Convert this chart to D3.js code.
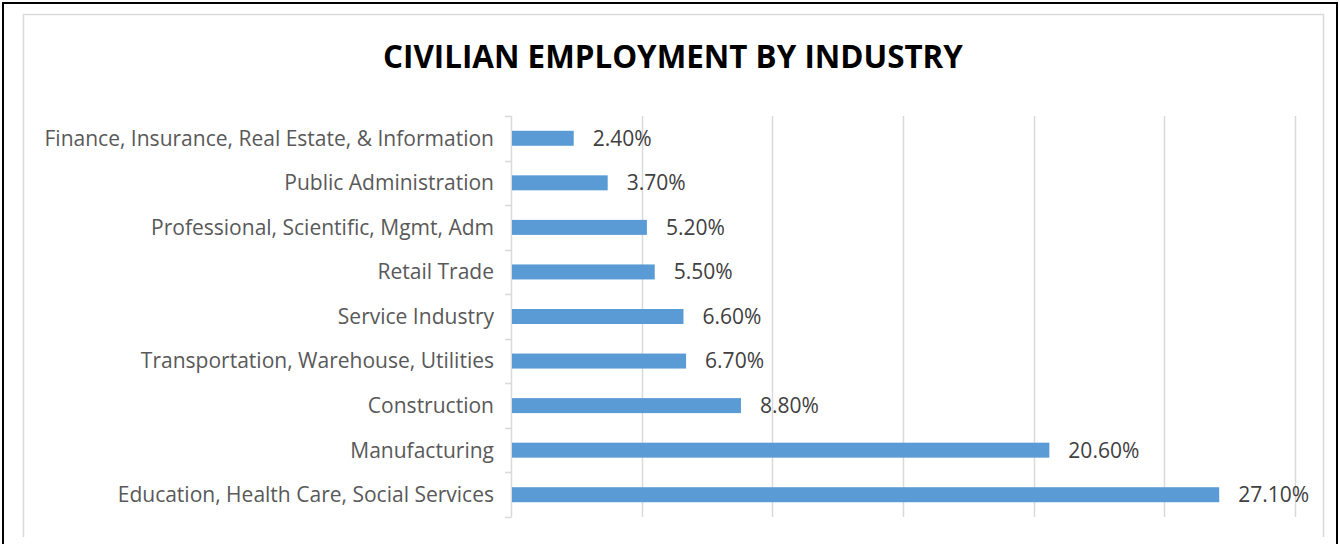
<!DOCTYPE html>
<html>
<head>
<meta charset="utf-8">
<script src="https://cdn.jsdelivr.net/npm/d3@7"></script>
<style>
  html, body { margin: 0; padding: 0; background: #fff; }
  svg { display: block; }
</style>
</head>
<body>
<svg id="chart" width="1340" height="544"></svg>
<script>
const title = "CIVILIAN EMPLOYMENT BY INDUSTRY";
const categories = [
  "Finance, Insurance, Real Estate, & Information",
  "Public Administration",
  "Professional, Scientific, Mgmt, Adm",
  "Retail Trade",
  "Service Industry",
  "Transportation, Warehouse, Utilities",
  "Construction",
  "Manufacturing",
  "Education, Health Care, Social Services"
];
const values = [2.4, 3.7, 5.2, 5.5, 6.6, 6.7, 8.8, 20.6, 27.1];
const xTicks = [0, 5, 10, 15, 20, 25, 30];

const svg = d3.select("#chart");
const FONT = "'Open Sans', 'Noto Sans', sans-serif";

// outer black frame
svg.append("path")
  .attr("d", "M3,546 V3 H1337 V546")
  .attr("fill", "none").attr("stroke", "#000").attr("stroke-width", 2);
// inner chart area frame
svg.append("path")
  .attr("d", "M23.5,537 V14.5 H1323.5 V537")
  .attr("fill", "none").attr("stroke", "#D9D9D9").attr("stroke-width", 1.5);

const x0 = 511, y0 = 116, y1 = 517;
const x = d3.scaleLinear().domain([0, 30]).range([x0, 1295]);
const y = d3.scaleBand().domain(categories).range([y0, y1]).paddingInner(0.66).paddingOuter(0.33);
const yb = d3.scaleBand().domain(categories).range([y0, y1]);

// gridlines
svg.append("g").selectAll("line").data(xTicks.slice(1)).join("line")
  .attr("x1", d => Math.round(x(d)) + 0.5).attr("x2", d => Math.round(x(d)) + 0.5)
  .attr("y1", y0).attr("y2", y1)
  .attr("stroke", "#D9D9D9").attr("stroke-width", 1.5);

// axis line with ticks at band boundaries
const axisG = svg.append("g");
axisG.append("line").attr("x1", x0 + 0.5).attr("x2", x0 + 0.5).attr("y1", y0).attr("y2", y1)
  .attr("stroke", "#D9D9D9").attr("stroke-width", 1.5);
const bounds = categories.map(c => yb(c)).concat([y1]);
axisG.selectAll("line.tk").data(bounds).join("line").attr("class", "tk")
  .attr("x1", x0 - 6).attr("x2", x0 + 0.5)
  .attr("y1", d => Math.round(d) + 0.5).attr("y2", d => Math.round(d) + 0.5)
  .attr("stroke", "#D9D9D9").attr("stroke-width", 1.5);

// bars
svg.append("g").selectAll("rect").data(categories).join("rect")
  .attr("x", x0 + 1)
  .attr("y", (c) => yb(c) + yb.bandwidth() / 2 - 7.5)
  .attr("width", (c, i) => x(values[i]) - x0 - 1)
  .attr("height", 15)
  .attr("fill", "#5B9BD5");

function fit(sel, targetWidth, startSize) {
  let maxW = 0;
  sel.each(function () { maxW = Math.max(maxW, this.getComputedTextLength()); });
  const s = startSize * targetWidth / maxW;
  sel.attr("font-size", s);
  return s;
}

// category labels
const cat = svg.append("g").selectAll("text").data(categories).join("text")
  .attr("x", 494)
  .attr("y", c => yb(c) + yb.bandwidth() / 2)
  .attr("dy", "0.35em")
  .attr("text-anchor", "end")
  .attr("font-family", FONT)
  .attr("font-size", 20)
  .attr("fill", "#595959")
  .text(d => d);
fit(cat.filter((d, i) => i === 0), 450, 20);
cat.attr("font-size", cat.filter((d, i) => i === 0).attr("font-size"));

// value labels
const vl = svg.append("g").selectAll("text").data(categories).join("text")
  .attr("x", (c, i) => x(values[i]) + 19)
  .attr("y", c => yb(c) + yb.bandwidth() / 2)
  .attr("dy", "0.35em")
  .attr("font-family", FONT)
  .attr("font-size", 20)
  .attr("fill", "#404040")
  .text((c, i) => values[i].toFixed(2) + "%");
fit(vl.filter((d, i) => i === 8), 71, 20);
vl.attr("font-size", vl.filter((d, i) => i === 8).attr("font-size"));

// title
const t = svg.append("text")
  .attr("x", 673).attr("y", 68)
  .attr("text-anchor", "middle")
  .attr("font-family", FONT)
  .attr("font-weight", "bold")
  .attr("font-size", 32)
  .attr("fill", "#000")
  .text(title);
fit(t, 580, 32);
</script>
</body>
</html>
